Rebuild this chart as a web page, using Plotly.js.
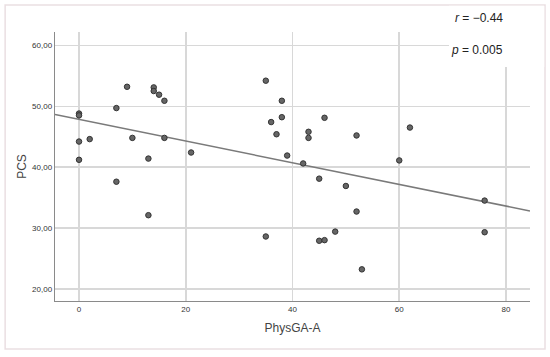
<!DOCTYPE html>
<html>
<head>
<meta charset="utf-8">
<script src="https://cdn.plot.ly/plotly-3.0.1.min.js"></script>
<style>
html,body{margin:0;padding:0;background:#fff;}
#chart{width:550px;height:357px;}
</style>
</head>
<body>
<div id="chart"></div>
<script>
// PhysGA-A values
const physGA = [0,0,0,0,2,7,7,9,10,13,13,14,14,15,16,16,21,
  35,35,36,37,38,38,39,42,43,43,45,45,46,46,48,50,52,52,53,
  60,62,76,76];
// PCS values
const pcs = [48.8,48.5,44.2,41.2,44.6,49.7,37.6,53.2,44.8,41.4,32.1,53.1,52.5,51.9,50.9,44.8,42.4,
  54.2,28.6,47.4,45.4,50.9,48.2,41.9,40.6,45.8,44.8,38.1,27.9,48.1,28.0,29.4,36.9,45.2,32.7,23.2,
  41.1,46.5,34.5,29.3];
const xTicks = [0,20,40,60,80];
const xTickLabels = ['0','20','40','60','80'];
const yTicks = [20,30,40,50,60];
const yTickLabels = ['20,00','30,00','40,00','50,00','60,00'];
const fitIntercept = 47.84;
const fitSlope = -0.178;
const statR = '<i>r</i> = \u22120.44';
const statP = '<i>p</i> = 0.005';

const xRange = [-4.5, 84.5];
const yRange = [18.0, 62.2];
const fitX = xRange.slice();
const fitY = fitX.map(v => fitIntercept + fitSlope * v);

const traces = [
  {x: fitX, y: fitY, mode: 'lines', type: 'scatter',
   line: {color: '#7a7a7a', width: 1.5}, hoverinfo: 'skip', cliponaxis: true},
  {x: physGA, y: pcs, mode: 'markers', type: 'scatter',
   marker: {size: 5.5, color: '#666', line: {color: '#333', width: 1}}}
];

const layout = {
  width: 550, height: 357,
  margin: {l: 55, r: 20, t: 32, b: 56, pad: 0},
  paper_bgcolor: '#fff', plot_bgcolor: '#fff',
  showlegend: false,
  font: {family: 'Liberation Sans, Arial, sans-serif', color: '#333'},
  xaxis: {
    range: xRange, tickvals: xTicks, ticktext: xTickLabels,
    showgrid: true, gridcolor: '#d8d8d8', gridwidth: 1.5,
    zeroline: false, showline: true, linecolor: '#8a8a8a', linewidth: 1.3,
    ticks: '', tickfont: {size: 8, color: '#333'},
    title: {text: 'PhysGA-A', font: {size: 12, color: '#444'}, standoff: 10}
  },
  yaxis: {
    range: yRange, tickvals: yTicks, ticktext: yTickLabels,
    showgrid: true, gridcolor: '#d8d8d8', gridwidth: 1.5,
    zeroline: false, showline: true, linecolor: '#8a8a8a', linewidth: 1.3,
    ticks: '', tickfont: {size: 8, color: '#333'},
    title: {text: 'PCS', font: {size: 12, color: '#444'}, standoff: 3}
  },
  shapes: [
    {type: 'rect', xref: 'paper', yref: 'paper', x0: -0.105, x1: 1.0316, y0: -0.178, y1: 1.100,
     line: {color: '#eadfe2', width: 1.5}, fillcolor: 'rgba(0,0,0,0)', layer: 'below'},
    {type: 'rect', xref: 'paper', yref: 'paper', x0: 0.8295, x1: 1.03, y0: 0.87, y1: 1.098,
     line: {width: 0}, fillcolor: '#fff', layer: 'above'}
  ],
  annotations: [
    {text: statR, xref: 'paper', yref: 'paper', x: 0.947, y: 1.052, xanchor: 'right', yanchor: 'middle',
     showarrow: false, font: {size: 12, color: '#222', family: 'Liberation Sans, Arial, sans-serif'}},
    {text: statP, xref: 'paper', yref: 'paper', x: 0.947, y: 0.933, xanchor: 'right', yanchor: 'middle',
     showarrow: false, font: {size: 12, color: '#222', family: 'Liberation Sans, Arial, sans-serif'}}
  ]
};

Plotly.newPlot('chart', traces, layout, {displayModeBar: false, staticPlot: true});
</script>
</body>
</html>
